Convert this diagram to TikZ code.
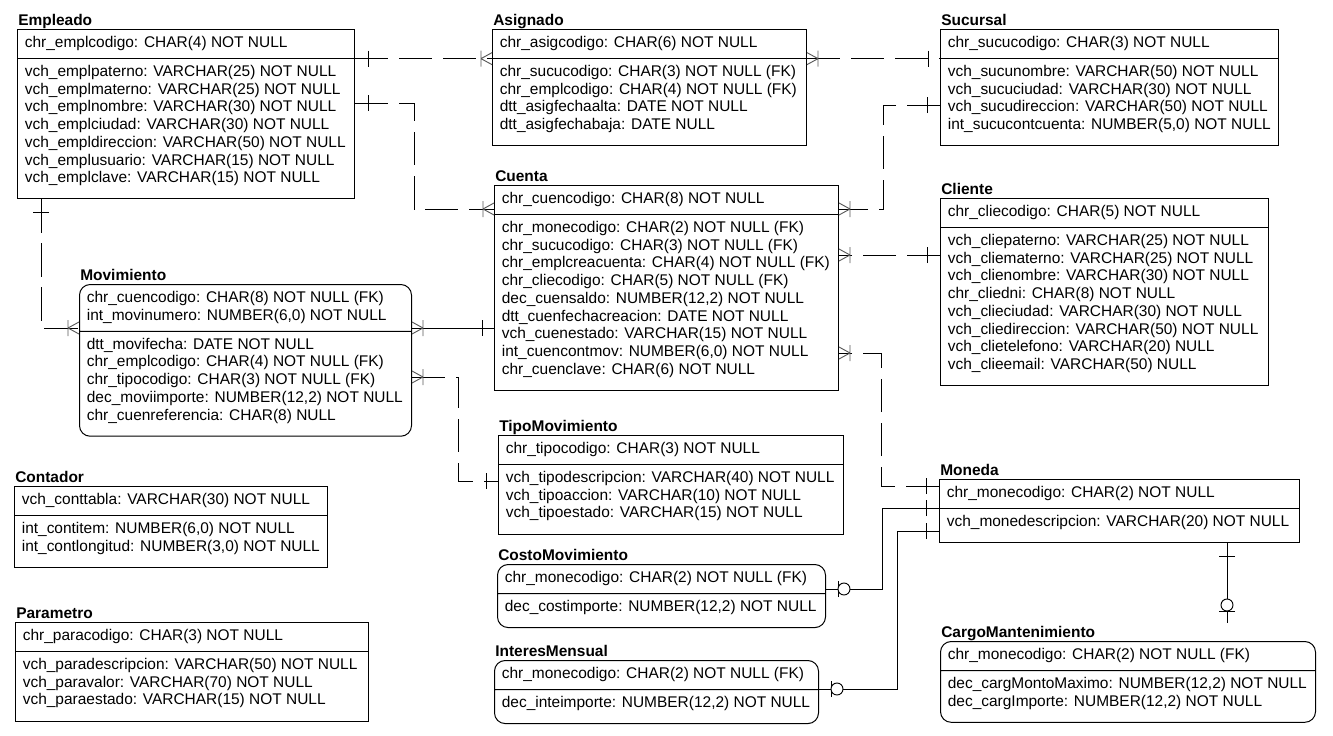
\documentclass[tikz,border=0pt]{standalone}
\usepackage{fontspec}
\setmainfont{Liberation Sans}
\usetikzlibrary{shapes.multipart,decorations.markings}

\newcommand{\keys}[1]{\strut#1\strut}
\newcommand{\attrs}[1]{\rule{0pt}{9pt}#1\rule[-7.9pt]{0pt}{7.9pt}}

\begin{document}
\begin{tikzpicture}[
x=0.75pt, y=-0.75pt,
entity/.style={
	draw, line width=0.75pt, rectangle split,
	rectangle split parts=2, rectangle split part align=left,
	anchor=north west, align=left,
	inner xsep=5.5pt, inner ysep=3.9pt,
	minimum width=#1*0.75pt,
	font=\fontsize{11.6}{13.3}\selectfont
},
weak/.style={rounded corners=8pt},
etitle/.style={anchor=base west, inner sep=0pt, xshift=0.75pt, yshift=2.6pt,
	font=\bfseries\fontsize{11.6}{13.3}\selectfont},
rel/.style={line width=0.7pt},
nonid/.style={rel, dash pattern=on 25pt off 8pt},
many start/.style={postaction={decorate, decoration={markings,
	mark=at position 0 with {\draw[solid, black!65] (11,0) -- (0,6) (11,0) -- (0,-6) (11,-8) -- (11,8);}}}},
many end/.style={postaction={decorate, decoration={markings,
	mark=at position 1 with {\draw[solid, black!65] (-11,0) -- (0,6) (-11,0) -- (0,-6) (-11,-8) -- (-11,8);}}}},
one start/.style={postaction={decorate, decoration={markings,
	mark=at position 0 with {\draw[solid] (13,-8) -- (13,8);}}}},
one end/.style={postaction={decorate, decoration={markings,
	mark=at position 1 with {\draw[solid] (-12,-8) -- (-12,8);}}}},
opt end/.style={postaction={decorate, decoration={markings,
	mark=at position 1 with {\draw[solid] (-12,-8) -- (-12,8); \draw[solid, fill=white] (-18,0) circle[radius=4.5pt];}}}}
]
\useasboundingbox (0,0) rectangle (1333,735);

\node[entity=337, label={[etitle]north west:Empleado}] (emp) at (17,29)
	{\keys{chr\_emplcodigo: CHAR(4) NOT NULL}
	\nodepart{two}\attrs{vch\_emplpaterno: VARCHAR(25) NOT NULL\\
	vch\_emplmaterno: VARCHAR(25) NOT NULL\\
	vch\_emplnombre: VARCHAR(30) NOT NULL\\
	vch\_emplciudad: VARCHAR(30) NOT NULL\\
	vch\_empldireccion: VARCHAR(50) NOT NULL\\
	vch\_emplusuario: VARCHAR(15) NOT NULL\\
	vch\_emplclave: VARCHAR(15) NOT NULL}};
\node[entity=314, label={[etitle]north west:Asignado}] (asig) at (492,29)
	{\keys{chr\_asigcodigo: CHAR(6) NOT NULL}
	\nodepart{two}\attrs{chr\_sucucodigo: CHAR(3) NOT NULL (FK)\\
	chr\_emplcodigo: CHAR(4) NOT NULL (FK)\\
	dtt\_asigfechaalta: DATE NOT NULL\\
	dtt\_asigfechabaja: DATE NULL}};
\node[entity=338, label={[etitle]north west:Sucursal}] (suc) at (940,29)
	{\keys{chr\_sucucodigo: CHAR(3) NOT NULL}
	\nodepart{two}\attrs{vch\_sucunombre: VARCHAR(50) NOT NULL\\
	vch\_sucuciudad: VARCHAR(30) NOT NULL\\
	vch\_sucudireccion: VARCHAR(50) NOT NULL\\
	int\_sucucontcuenta: NUMBER(5,0) NOT NULL}};
\node[entity=344, label={[etitle]north west:Cuenta}] (cuen) at (494,185)
	{\keys{chr\_cuencodigo: CHAR(8) NOT NULL}
	\nodepart{two}\attrs{chr\_monecodigo: CHAR(2) NOT NULL (FK)\\
	chr\_sucucodigo: CHAR(3) NOT NULL (FK)\\
	chr\_emplcreacuenta: CHAR(4) NOT NULL (FK)\\
	chr\_cliecodigo: CHAR(5) NOT NULL (FK)\\
	dec\_cuensaldo: NUMBER(12,2) NOT NULL\\
	dtt\_cuenfechacreacion: DATE NOT NULL\\
	vch\_cuenestado: VARCHAR(15) NOT NULL\\
	int\_cuencontmov: NUMBER(6,0) NOT NULL\\
	chr\_cuenclave: CHAR(6) NOT NULL}};
\node[entity=328, label={[etitle]north west:Cliente}] (cli) at (940,198)
	{\keys{chr\_cliecodigo: CHAR(5) NOT NULL}
	\nodepart{two}\attrs{vch\_cliepaterno: VARCHAR(25) NOT NULL\\
	vch\_cliematerno: VARCHAR(25) NOT NULL\\
	vch\_clienombre: VARCHAR(30) NOT NULL\\
	chr\_cliedni: CHAR(8) NOT NULL\\
	vch\_clieciudad: VARCHAR(30) NOT NULL\\
	vch\_cliedireccion: VARCHAR(50) NOT NULL\\
	vch\_clietelefono: VARCHAR(20) NULL\\
	vch\_clieemail: VARCHAR(50) NULL}};
\node[entity=332, weak, label={[etitle]north west:Movimiento}] (mov) at (79,284)
	{\keys{chr\_cuencodigo: CHAR(8) NOT NULL (FK)\\
	int\_movinumero: NUMBER(6,0) NOT NULL}
	\nodepart{two}\attrs{dtt\_movifecha: DATE NOT NULL\\
	chr\_emplcodigo: CHAR(4) NOT NULL (FK)\\
	chr\_tipocodigo: CHAR(3) NOT NULL (FK)\\
	dec\_moviimporte: NUMBER(12,2) NOT NULL\\
	chr\_cuenreferencia: CHAR(8) NULL}};
\node[entity=345, label={[etitle]north west:TipoMovimiento}] (tipo) at (498,435)
	{\keys{chr\_tipocodigo: CHAR(3) NOT NULL}
	\nodepart{two}\attrs{vch\_tipodescripcion: VARCHAR(40) NOT NULL\\
	vch\_tipoaccion: VARCHAR(10) NOT NULL\\
	vch\_tipoestado: VARCHAR(15) NOT NULL}};
\node[entity=313, label={[etitle]north west:Contador}] (cont) at (14,486)
	{\keys{vch\_conttabla: VARCHAR(30) NOT NULL}
	\nodepart{two}\attrs{int\_contitem: NUMBER(6,0) NOT NULL\\
	int\_contlongitud: NUMBER(3,0) NOT NULL}};
\node[entity=360, label={[etitle]north west:Moneda}] (mon) at (939,479)
	{\keys{chr\_monecodigo: CHAR(2) NOT NULL}
	\nodepart{two}\attrs{vch\_monedescripcion: VARCHAR(20) NOT NULL}};
\node[entity=328, weak, label={[etitle]north west:CostoMovimiento}] (costo) at (497,564)
	{\keys{chr\_monecodigo: CHAR(2) NOT NULL (FK)}
	\nodepart{two}\attrs{dec\_costimporte: NUMBER(12,2) NOT NULL}};
\node[entity=353, label={[etitle]north west:Parametro}] (param) at (15,622)
	{\keys{chr\_paracodigo: CHAR(3) NOT NULL}
	\nodepart{two}\attrs{vch\_paradescripcion: VARCHAR(50) NOT NULL\\
	vch\_paravalor: VARCHAR(70) NOT NULL\\
	vch\_paraestado: VARCHAR(15) NOT NULL}};
\node[entity=324, weak, label={[etitle]north west:InteresMensual}] (inter) at (494,660)
	{\keys{chr\_monecodigo: CHAR(2) NOT NULL (FK)}
	\nodepart{two}\attrs{dec\_inteimporte: NUMBER(12,2) NOT NULL}};
\node[entity=375, weak, label={[etitle]north west:CargoMantenimiento}] (cargo) at (940,641)
	{\keys{chr\_monecodigo: CHAR(2) NOT NULL (FK)}
	\nodepart{two}\attrs{dec\_cargMontoMaximo: NUMBER(12,2) NOT NULL\\
	dec\_cargImporte: NUMBER(12,2) NOT NULL}};

\coordinate (cargotop) at (1227,623);

% relaciones
\draw[nonid, one start, many end] (emp.text split east) -- (asig.text split west);
\draw[nonid, one start, many end] (emp.east |- 0,103) -| (414,209) -- (cuen.west |- 0,209);
\draw[nonid, many start, one end] (asig.text split east) -- (suc.text split west);
\draw[nonid, one start, many end] (suc.west |- 0,105) -| (883,209) -- (cuen.east |- 0,209);
\draw[nonid, one start, many end] (cli.west |- 0,255) -- (cuen.east |- 0,255);
\draw[nonid, one start, many end] (mon.west |- 0,486) -| (881,353) -- (cuen.east |- 0,353);
\draw[rel, one start, opt end] (mon.west |- 0,508) -| (882,589) -- (costo.east |- 0,589);
\draw[rel, one start, opt end] (mon.west |- 0,531) -| (897,689) -- (inter.east |- 0,689);
\draw[rel, one start, opt end] (1227,0 |- mon.south) -- (cargotop);
\draw[nonid, one start, many end] (41,0 |- emp.south) |- (mov.west |- 0,328);
\draw[rel, many start, one end] (mov.east |- 0,328) -- (cuen.west |- 0,328);
\draw[nonid, many start, one end] (mov.east |- 0,377) -| (458,481) -- (tipo.west |- 0,481);
\end{tikzpicture}
\end{document}
